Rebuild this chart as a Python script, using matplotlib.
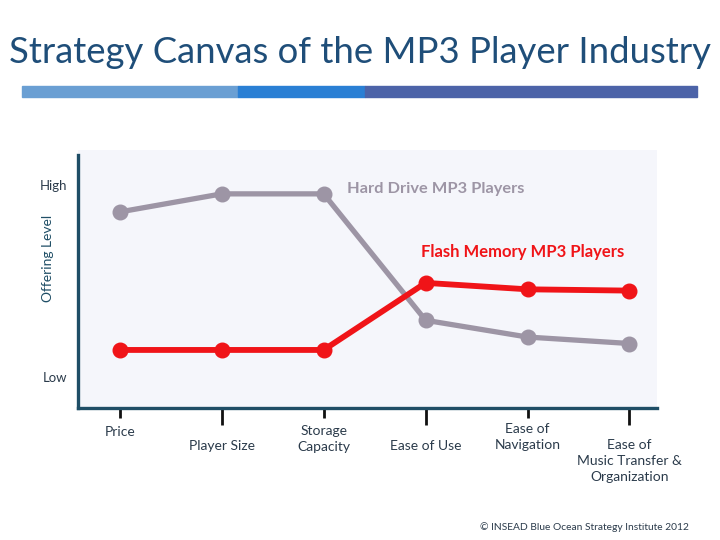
import matplotlib
matplotlib.use('Agg')
import matplotlib.pyplot as plt
import matplotlib.transforms as mtransforms
from matplotlib.patches import Rectangle

# Data (offering level on a 0-10 scale)
factors = ['Price', 'Player Size', 'Storage\nCapacity', 'Ease of Use',
           'Ease of\nNavigation', 'Ease of\nMusic Transfer &\nOrganization']
hard_drive = [7.6, 8.3, 8.3, 3.4, 2.75, 2.5]
flash_memory = [2.25, 2.25, 2.25, 4.85, 4.6, 4.55]

# Styles
font = 'Lato'
title_color = '#1F4E79'
axis_color = '#1F4E66'
text_color = '#2B3B4B'
gray_color = '#9D95A5'
red_color = '#F01418'
bg_color = '#F5F6FB'

plt.rcParams['font.family'] = [font, 'DejaVu Sans']

fig = plt.figure(figsize=(7.2, 5.4), dpi=100)
fig.patch.set_facecolor('white')

# Title and coloured bar under it
fig.text(0.5, 0.902, 'Strategy Canvas of the MP3 Player Industry', ha='center', va='center',
         fontsize=26.3, color=title_color)
bar_y = 1 - 97 / 540
bar_h = 11 / 540
for x0, x1, c in [(22, 238, '#6A9FD3'), (238, 365, '#2A7FD4'), (365, 697, '#4C63A8')]:
    fig.patches.append(Rectangle((x0 / 720, bar_y), (x1 - x0) / 720, bar_h,
                                 transform=fig.transFigure, color=c, zorder=1))

ax = fig.add_axes([78 / 720, 1 - 408 / 540, (657 - 78) / 720, (408 - 150) / 540])
ax.set_facecolor(bg_color)
x = list(range(len(factors)))

ax.plot(x, hard_drive, color=gray_color, lw=3.8, marker='o', ms=10.5, zorder=3)
ax.plot(x, flash_memory, color=red_color, lw=4.2, marker='o', ms=10.5, zorder=4)

ax.set_xlim(-0.41, 5.27)
ax.set_ylim(0, 10)

for side in ['top', 'right']:
    ax.spines[side].set_visible(False)
for side in ['left', 'bottom']:
    ax.spines[side].set_color(axis_color)
    ax.spines[side].set_linewidth(2.4)
ax.spines['left'].set_bounds(0, 9.8)

# Alternate long and short tick marks
ax.set_xticks([1, 3, 5])
ax.set_xticks([0, 2, 4], minor=True)
ax.tick_params(axis='x', which='major', length=12, width=2, color='#111111', labelbottom=False)
ax.tick_params(axis='x', which='minor', length=7, width=2, color='#111111', labelbottom=False)
ax.set_yticks([])

# Staggered category labels
label_offsets = [18, 32, 17, 32, 15, 31]  # pixels below the axis
trans = mtransforms.blended_transform_factory(ax.transData, ax.transAxes)
for xi, lab, off in zip(x, factors, label_offsets):
    ax.text(xi, -off / 258, lab, transform=trans, ha='center', va='top',
            fontsize=10, color=text_color, linespacing=1.4)

# Level labels
ytrans = mtransforms.blended_transform_factory(ax.transAxes, ax.transData)
ax.text(-0.018, 8.6, 'High', transform=ytrans, ha='right', va='center', fontsize=9.5, color=text_color)
ax.text(-0.018, 1.15, 'Low', transform=ytrans, ha='right', va='center', fontsize=9.5, color=text_color)
fig.text(48 / 720, 1 - 258 / 540, 'Offering Level', rotation=90, ha='center', va='center',
         fontsize=10, color=axis_color)

# Series labels
ax.text(3.1, 8.5, 'Hard Drive MP3 Players', ha='center', va='center', fontsize=11.8,
        fontweight='bold', color=gray_color)
ax.text(3.95, 6.05, 'Flash Memory MP3 Players', ha='center', va='center', fontsize=12,
        fontweight='bold', color=red_color)

fig.text(584 / 720, 1 - 527 / 540, '\u00a9 INSEAD Blue Ocean Strategy Institute 2012',
         ha='center', va='center', fontsize=7.4, color=text_color)

fig.savefig('out.png', dpi=100)
